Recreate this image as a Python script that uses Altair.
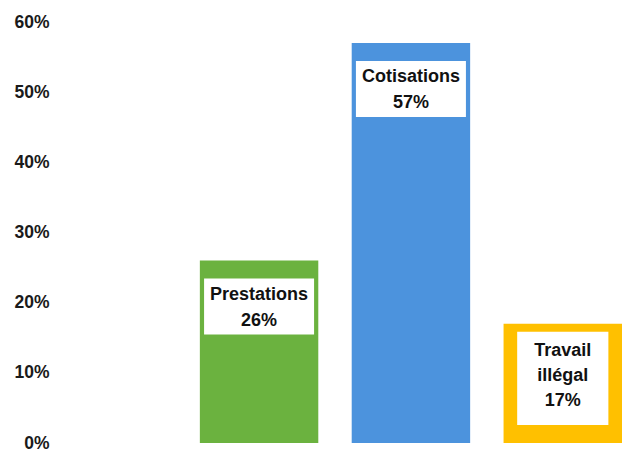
import altair as alt
import pandas as pd

# ---- data ----
categories = ["Prestations", "Cotisations", "Travail illégal"]
values = [0.26, 0.57, 0.17]
labels = ["Prestations\n26%", "Cotisations\n57%", "Travail\nillégal\n17%"]
colors = ["#6bb23f", "#4c93dd", "#ffc000"]
boxed = [True, True, False]
spacer = "_"
y_ticks = [0, 0.1, 0.2, 0.3, 0.4, 0.5, 0.6]

df = pd.DataFrame({"cat": categories, "value": values, "label": labels, "boxed": boxed})

FONT = "Liberation Sans, Arial"

x_enc = alt.X("cat:N", scale=alt.Scale(domain=[spacer] + categories,
                                       paddingInner=0.22, paddingOuter=0),
              axis=None)
y_scale = alt.Scale(domain=[0, 0.6], nice=False, zero=True)

base = alt.Chart(df)

bars = base.mark_bar().encode(
    x=x_enc,
    y=alt.Y("value:Q", scale=y_scale,
            axis=alt.Axis(values=y_ticks, format=".0%", title=None, grid=False,
                          domain=False, ticks=False, labelPadding=-1,
                          labelFont=FONT, labelFontSize=17.5, labelFontWeight="bold",
                          labelColor="#1a1a1a")),
    color=alt.Color("cat:N", scale=alt.Scale(domain=categories, range=colors), legend=None),
)

inner = base.transform_filter("!datum.boxed").mark_bar(
    color="white", width=alt.RelativeBandSize(0.77), yOffset=8, y2Offset=-18
).encode(x=x_enc, y=alt.Y("value:Q", scale=y_scale), y2=alt.datum(0))

boxes = base.transform_filter("datum.boxed").mark_point(
    shape="M-1,-0.51H1V0.51H-1Z", filled=True, color="white", opacity=1,
    size=12100, strokeWidth=0, yOffset=46
).encode(x=x_enc, y=alt.Y("value:Q", scale=y_scale))

text_boxed = base.transform_filter("datum.boxed").mark_text(
    font=FONT, fontSize=18, fontWeight="bold", color="#111111",
    lineBreak="\n", lineHeight=26, baseline="middle", align="center", yOffset=34
).encode(x=x_enc, y=alt.Y("value:Q", scale=y_scale), text="label:N")

text_plain = base.transform_filter("!datum.boxed").mark_text(
    font=FONT, fontSize=18, fontWeight="bold", color="#111111",
    lineBreak="\n", lineHeight=25, baseline="middle", align="center", yOffset=27
).encode(x=x_enc, y=alt.Y("value:Q", scale=y_scale), text="label:N")

chart = alt.layer(bars, inner, boxes, text_boxed, text_plain).properties(
    width=574, height=421,
    autosize=alt.AutoSizeParams(type="none"),
    padding={"left": 48, "top": 22, "right": 0, "bottom": 9},
    background="white",
).configure_view(stroke=None)

chart.save("out.html", embed_options={"renderer": "svg", "actions": False})
